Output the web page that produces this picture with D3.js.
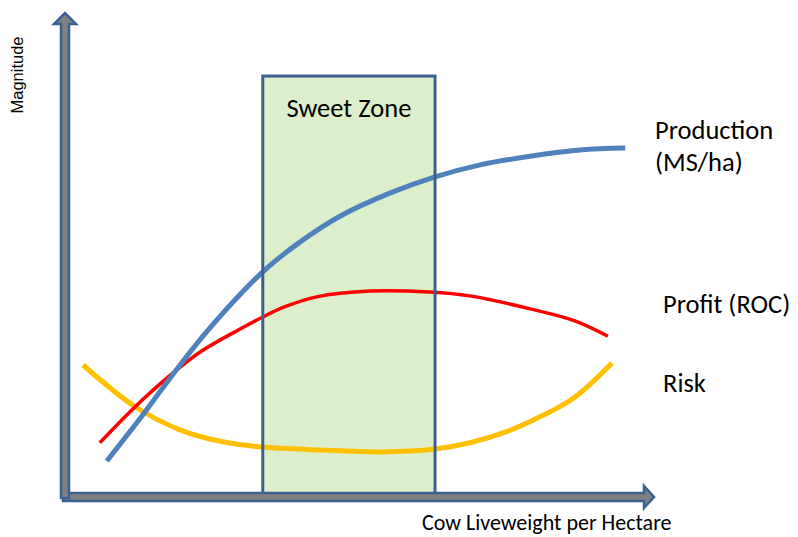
<!DOCTYPE html>
<html>
<head>
<meta charset="utf-8">
<script src="https://cdn.jsdelivr.net/npm/d3@7"></script>
<style>
    body { margin: 0; background: #fff; }
    svg { display: block; }
</style>
</head>
<body>
<svg id="chart_svg"></svg>
<script>
// liveweight (0-100) vs magnitude (0-100)
const productionX = [7.2, 13.4, 17.2, 24.7, 34.1, 40.5, 47.4, 56.0, 63.8, 71.6, 80.2, 88.8, 96.6];
const productionY = [7.5, 17.1, 23.3, 34.8, 46.9, 53.1, 58.5, 63.3, 66.7, 69.2, 71.0, 72.3, 72.7];

const profitX = [6.0, 12.1, 17.2, 23.3, 30.5, 34.1, 37.6, 43.4, 52.6, 62.9, 69.8, 80.2, 87.9, 93.6];
const profitY = [11.3, 18.8, 24.4, 30.2, 35.2, 37.5, 39.5, 41.7, 42.9, 42.7, 41.9, 39.2, 36.7, 33.5];

const riskX = [3.1, 12.1, 19.8, 27.2, 34.1, 44.0, 54.3, 63.8, 69.8, 75.9, 81.9, 87.9, 94.3];
const riskY = [27.5, 18.8, 14.0, 11.5, 10.4, 9.8, 9.4, 10.0, 11.3, 13.5, 16.7, 20.8, 27.9];

const sweetZone = [34.1, 63.8];
const sweetZoneTop = 87.7;

const seriesNames = ["Risk", "Profit (ROC)", "Production"];
const seriesColors = ["#ffc000", "#ff0000", "#4f81bd"];
const seriesWidths = [5, 3.5, 5];

const width = 798, height = 537;
const bodyFont = "Carlito, Lato, 'Open Sans', sans-serif";

var svg = d3.select("#chart_svg").attr("width", width).attr("height", height);

const x = d3.scaleLinear().domain([0, 100]).range([65, 645]);
const y = d3.scaleLinear().domain([0, 100]).range([497, 17]);

const series = [
    riskX.map((d, i) => [d, riskY[i]]),
    profitX.map((d, i) => [d, profitY[i]]),
    productionX.map((d, i) => [d, productionY[i]])
];

const line = d3.line()
    .x(d => x(d[0]))
    .y(d => y(d[1]))
    .curve(d3.curveCatmullRom.alpha(0.5));

const zoneX = x(sweetZone[0]), zoneW = x(sweetZone[1]) - x(sweetZone[0]);
const zoneY = y(sweetZoneTop), zoneH = y(0) - y(sweetZoneTop);

svg.append("rect")
    .attr("x", zoneX).attr("y", zoneY)
    .attr("width", zoneW).attr("height", zoneH)
    .attr("fill", "#ddeeca");

svg.append("g")
    .selectAll("path")
    .data(series)
    .enter().append("path")
    .attr("d", line)
    .attr("fill", "none")
    .attr("stroke", (d, i) => seriesColors[i])
    .attr("stroke-width", (d, i) => seriesWidths[i])
    .attr("stroke-linecap", "butt");

// border goes over the curves
svg.append("rect")
    .attr("x", zoneX).attr("y", zoneY)
    .attr("width", zoneW).attr("height", zoneH)
    .attr("fill", "none")
    .attr("stroke", "#3b6193")
    .attr("stroke-width", 3);

svg.append("text")
    .attr("x", zoneX + zoneW / 2)
    .attr("y", 117)
    .attr("text-anchor", "middle")
    .style("font-family", bodyFont)
    .style("font-size", "26.5px")
    .text("Sweet Zone");

// block arrows for the axes
const x0 = x(0), y0 = y(0);
const shaft = 4, head = 11;
const hPath = `M${x0 - 2},${y0 - shaft}H644V${y0 - head}L654,${y0}L644,${y0 + head}V${y0 + shaft}H${x0 - 2}Z`;
const vPath = `M${x0 - shaft},${y0 + 1}V24H${x0 - head}L${x0},13L${x0 + head},24H${x0 + shaft}V${y0 + 1}Z`;

svg.append("g")
    .selectAll("path")
    .data([hPath, vPath])
    .enter().append("path")
    .attr("d", d => d)
    .attr("fill", "#808080")
    .attr("stroke", "#3b6193")
    .attr("stroke-width", 2.5)
    .attr("stroke-linejoin", "miter");

svg.append("text")
    .attr("transform", "translate(23,75) rotate(-90)")
    .attr("text-anchor", "middle")
    .style("font-family", "'Liberation Sans', Arial, sans-serif")
    .style("font-size", "16.5px")
    .text("Magnitude");

svg.append("text")
    .attr("x", 422)
    .attr("y", 530)
    .style("font-family", bodyFont)
    .style("font-size", "22px")
    .text("Cow Liveweight per Hectare");

// series labels on the right
const labelRows = [
    { text: "Production", x: 655, y: 139 },
    { text: "(MS/ha)", x: 655, y: 171 },
    { text: seriesNames[1], x: 663, y: 313 },
    { text: seriesNames[0], x: 663, y: 392 }
];

svg.append("g")
    .selectAll("text")
    .data(labelRows)
    .enter().append("text")
    .attr("x", d => d.x)
    .attr("y", d => d.y)
    .style("font-family", bodyFont)
    .style("font-size", "26.5px")
    .text(d => d.text);
</script>
</body>
</html>
